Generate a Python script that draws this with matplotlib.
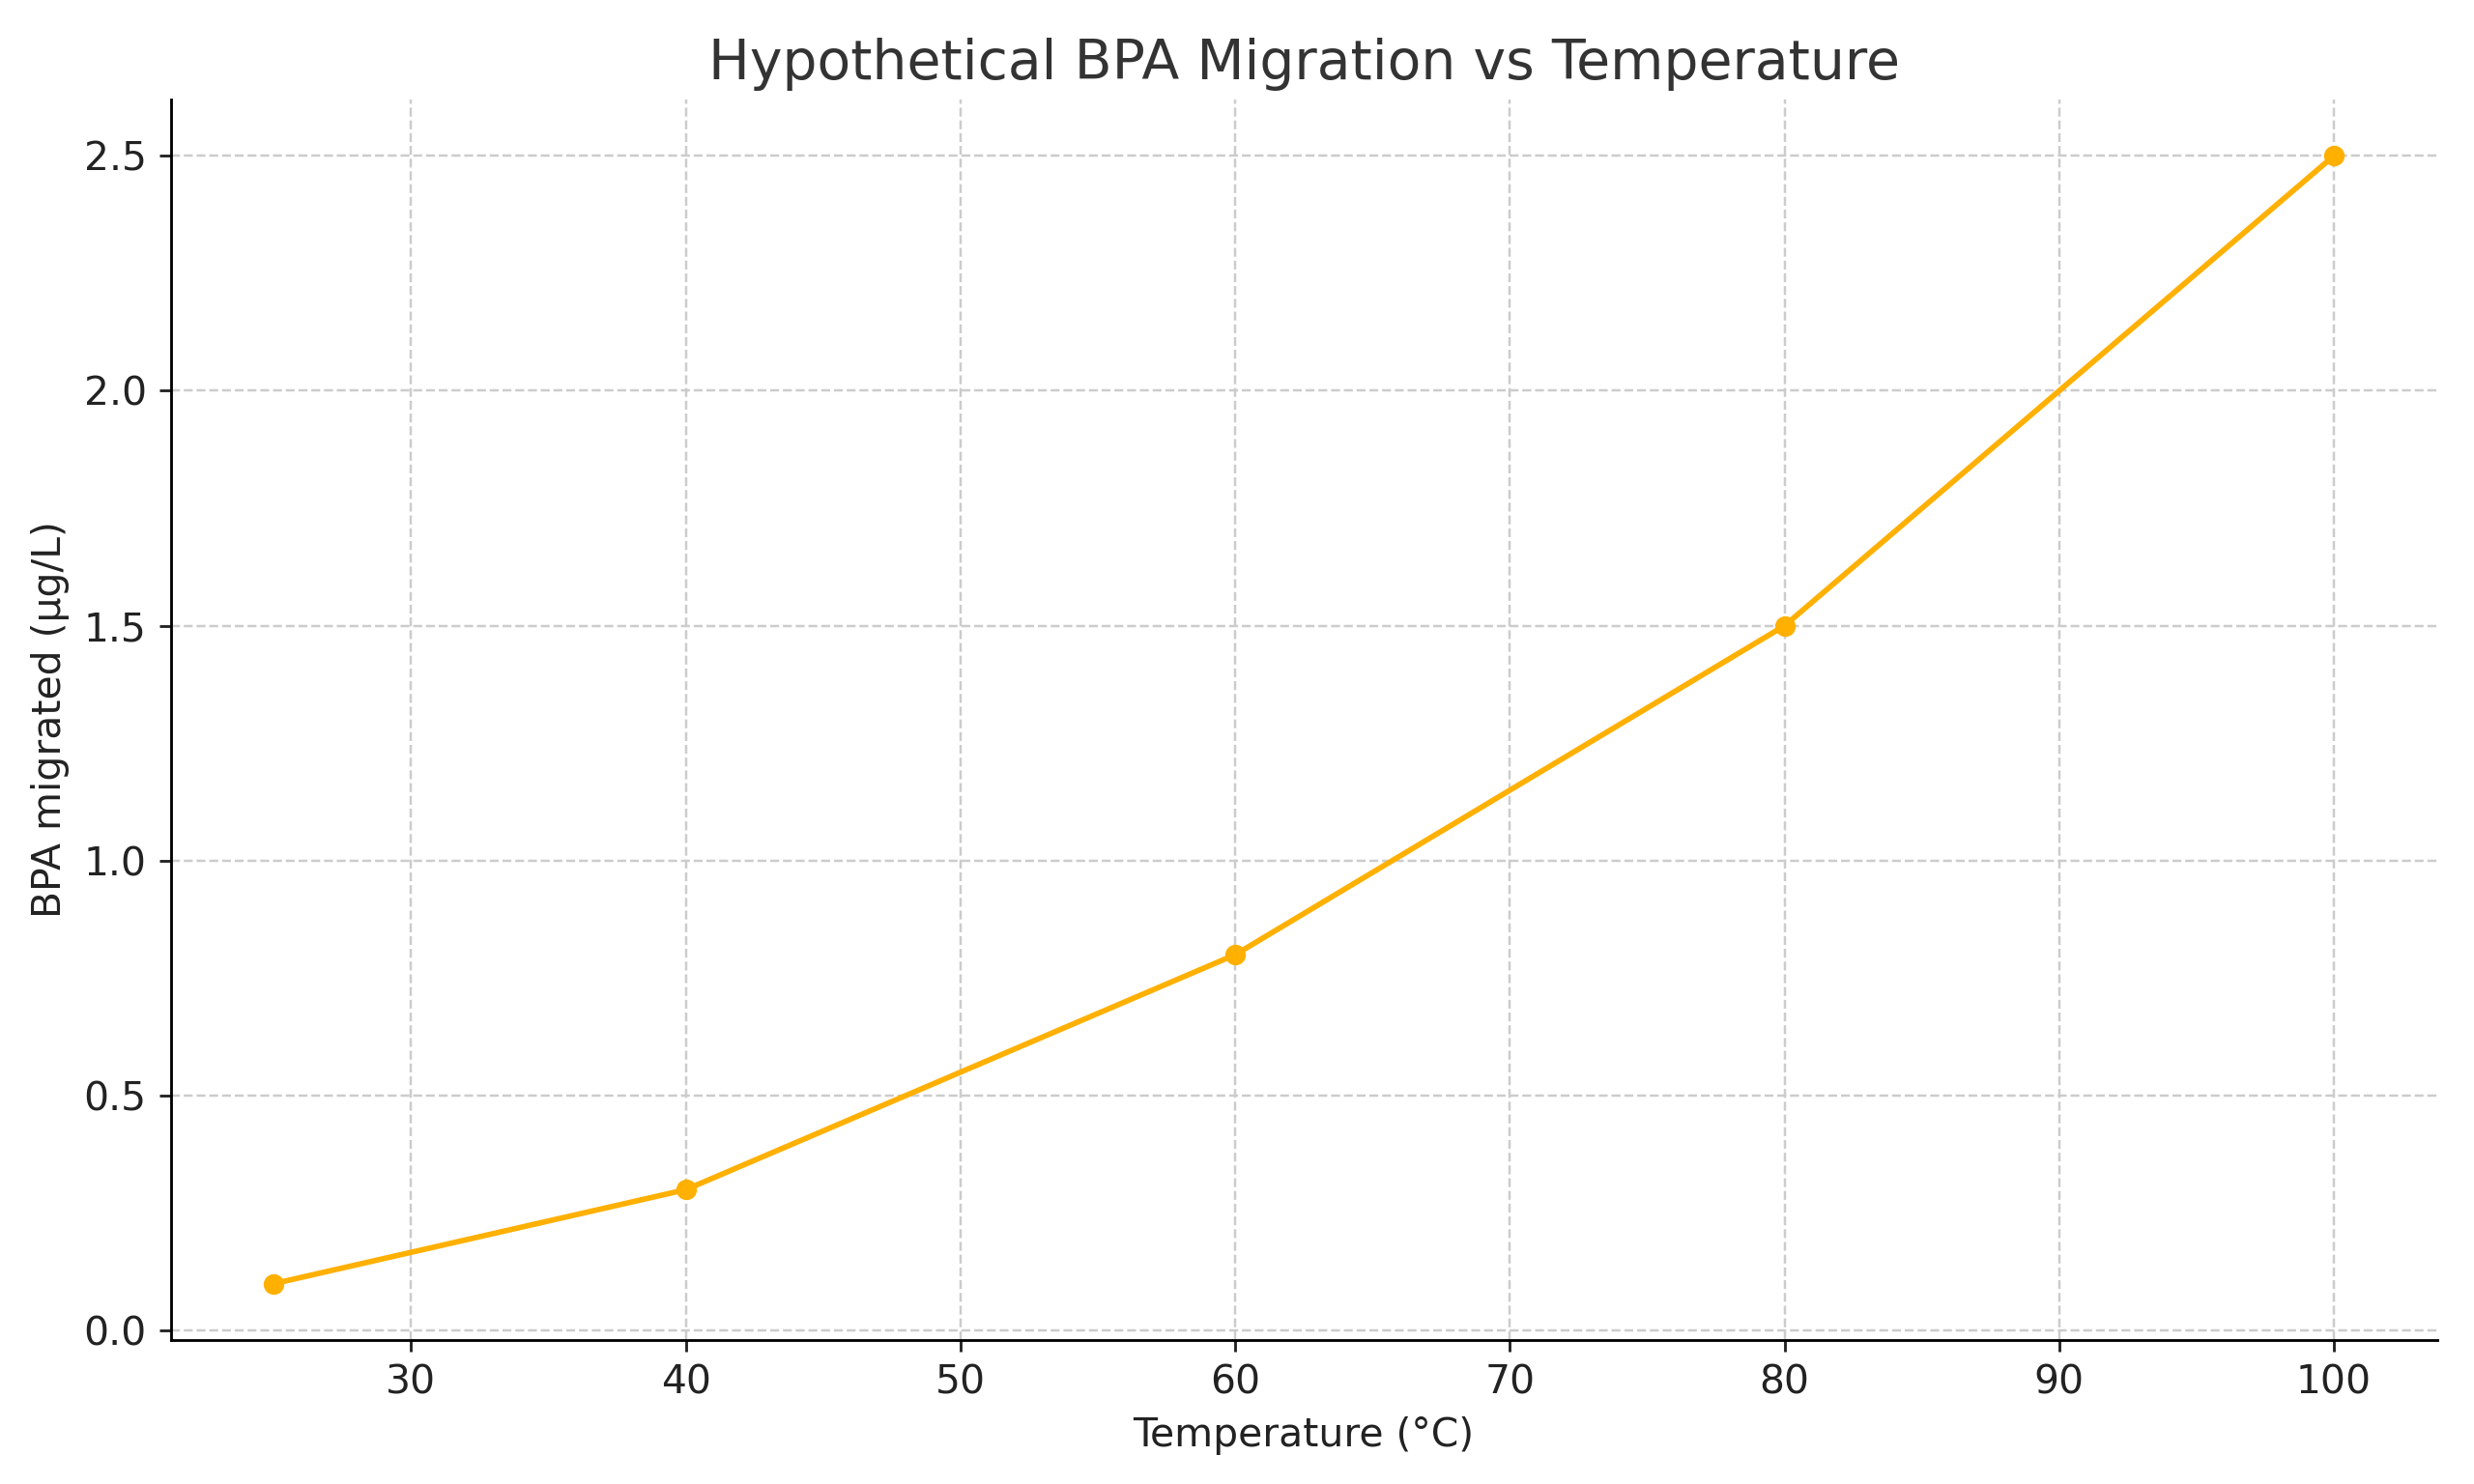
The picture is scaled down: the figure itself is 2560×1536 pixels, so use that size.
import matplotlib
matplotlib.use("Agg")
import matplotlib.pyplot as plt

temperature = [25, 40, 60, 80, 100]
bpa_migrated = [0.1, 0.3, 0.8, 1.5, 2.5]

fig = plt.figure(figsize=(10, 6), dpi=256)
ax = fig.add_axes([0.069, 0.097, 0.916, 0.836])
ax.plot(temperature, bpa_migrated, color="#FFB000", marker="o", linewidth=1.6, markersize=5)
ax.set_title("Hypothetical BPA Migration vs Temperature", fontsize=16, color="#333333")
ax.set_xlabel("Temperature (°C)", fontsize=11.5, color="#222222")
ax.set_ylabel("BPA migrated (µg/L)", fontsize=11.5, color="#222222")
ax.set_xticks([30, 40, 50, 60, 70, 80, 90, 100])
ax.set_yticks([0.0, 0.5, 1.0, 1.5, 2.0, 2.5])
ax.tick_params(labelsize=11.5, colors="#222222")
ax.grid(True, linestyle="--", color="#cccccc", linewidth=0.7)
ax.spines["top"].set_visible(False)
ax.spines["right"].set_visible(False)
ax.set_xlim(21.25, 103.75)
ax.set_ylim(-0.02, 2.62)
fig.savefig("out.png")
